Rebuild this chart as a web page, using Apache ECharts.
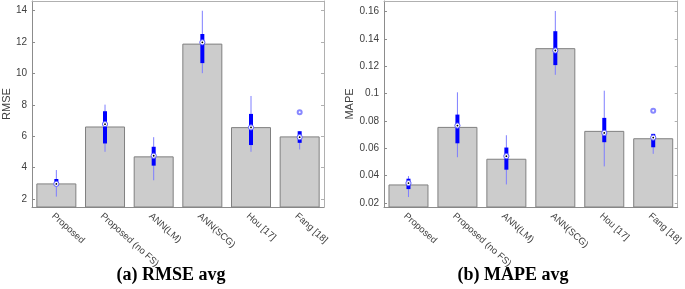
<!DOCTYPE html>
<html>
<head>
<meta charset="utf-8">
<script src="https://cdn.jsdelivr.net/npm/echarts@6/dist/echarts.min.js"></script>
<style>
  html, body { margin: 0; padding: 0; background: #fff; }
  #chart { width: 685px; height: 289px; }
</style>
</head>
<body>
<div id="chart"></div>
<script>
const categories = ["Proposed", "Proposed (no FS)", "ANN(LM)", "ANN(SCG)", "Hou [17]", "Fang [18]"];

// bar heights (averages)
const rmseAvg = [3.0, 6.62, 4.72, 11.89, 6.58, 5.99];
const mapeAvg = [0.0336, 0.0757, 0.0524, 0.1333, 0.0728, 0.0674];

// box stats per category: [low, q1, median, q3, high]
const rmseBox = [
  [2.16, 2.92, 2.97, 3.28, 3.85],
  [5.01, 5.54, 6.77, 7.59, 8.01],
  [3.2, 4.13, 4.76, 5.33, 5.94],
  [10.01, 10.65, 11.97, 12.5, 13.98],
  [5.01, 5.44, 6.56, 7.42, 8.56],
  [5.16, 5.58, 5.94, 6.32, 6.32],
];
const mapeBox = [
  [0.0244, 0.0302, 0.0346, 0.0378, 0.0397],
  [0.0535, 0.0637, 0.0767, 0.0847, 0.101],
  [0.0336, 0.0444, 0.0543, 0.0606, 0.0696],
  [0.1138, 0.1209, 0.1316, 0.1457, 0.1605],
  [0.0468, 0.0645, 0.0713, 0.0823, 0.1022],
  [0.056, 0.0608, 0.0679, 0.0706, 0.0706],
];

// outliers: [category index, value]
const rmseOutliers = [[5, 7.53]];
const mapeOutliers = [[5, 0.0876]];

// tick labels
const rmseTicks = [2, 4, 6, 8, 10, 12, 14];
const mapeTicks = [0.02, 0.04, 0.06, 0.08, 0.1, 0.12, 0.14, 0.16];

const axisColor = "#8c8c8c";
const labelColor = "#404040";
const font = "Liberation Sans";

function boxItem(params, api) {
  const i = api.value(0);
  const low = api.coord([i, api.value(1)]);
  const q1 = api.coord([i, api.value(2)]);
  const med = api.coord([i, api.value(3)]);
  const q3 = api.coord([i, api.value(4)]);
  const high = api.coord([i, api.value(5)]);
  const x = med[0];
  return {
    type: "group",
    children: [
      {
        type: "line",
        shape: { x1: x, y1: low[1], x2: x, y2: high[1] },
        style: { stroke: "#7f7fff", lineWidth: 1 },
      },
      {
        type: "rect",
        shape: { x: x - 2, y: q3[1], width: 4, height: q1[1] - q3[1] },
        style: { fill: "#0000ff" },
      },
      {
        type: "circle",
        shape: { cx: x, cy: med[1], r: 2.6 },
        style: { fill: "#fff", stroke: "#5a5aff", lineWidth: 1 },
      },
      {
        type: "circle",
        shape: { cx: x, cy: med[1], r: 0.9 },
        style: { fill: "#000" },
      },
    ],
  };
}

function buildAxes(gridIndex, ticks, min, max, name, nameGap, fmt) {
  const x = [
    {
      gridIndex,
      type: "category",
      data: categories,
      position: "bottom",
      axisLine: { lineStyle: { color: axisColor } },
      axisTick: { inside: true, alignWithLabel: true, length: 3, lineStyle: { color: axisColor } },
      axisLabel: {
        rotate: -42,
        margin: 4,
        verticalAlign: "top",
        color: labelColor,
        fontFamily: font,
        fontSize: 9.5,
        interval: 0,
      },
    },
    {
      gridIndex,
      type: "category",
      data: categories,
      position: "top",
      axisLine: { lineStyle: { color: "#b0b0b0" } },
      axisTick: { inside: true, alignWithLabel: true, length: 3, lineStyle: { color: "#b0b0b0" } },
      axisLabel: { show: false },
    },
  ];
  const y = [
    {
      gridIndex,
      type: "value",
      min,
      max,
      position: "left",
      name,
      nameLocation: "middle",
      nameGap,
      nameTextStyle: { color: labelColor, fontFamily: font, fontSize: 11 },
      axisLine: { show: true, lineStyle: { color: axisColor } },
      axisTick: { show: true, inside: true, length: 3, customValues: ticks, lineStyle: { color: axisColor } },
      axisLabel: { customValues: ticks, color: labelColor, fontFamily: font, fontSize: 10, margin: 5, formatter: fmt },
      splitLine: { show: false },
    },
    {
      gridIndex,
      type: "value",
      min,
      max,
      position: "right",
      axisLine: { show: true, lineStyle: { color: "#b0b0b0" } },
      axisTick: { show: true, inside: true, length: 3, customValues: ticks, lineStyle: { color: "#b0b0b0" } },
      axisLabel: { show: false },
      splitLine: { show: false },
    },
  ];
  return { x, y };
}

const chart = echarts.init(document.getElementById("chart"), null, { renderer: "canvas" });

const a1 = buildAxes(0, rmseTicks, 1.5, 14.6, "RMSE", 9, (v) => String(v));
const a2 = buildAxes(1, mapeTicks, 0.0171, 0.1678, "MAPE", 21, (v) => String(+v.toFixed(2)));

const option = {
  animation: false,
  grid: [
    { left: 28, top: 1, width: 296, height: 206 },
    { left: 384, top: 1, width: 297, height: 206 },
  ],
  xAxis: [...a1.x, ...a2.x],
  yAxis: [...a1.y, ...a2.y],
  series: [
    {
      type: "bar",
      xAxisIndex: 0,
      yAxisIndex: 0,
      data: rmseAvg,
      barWidth: 40,
      itemStyle: { color: "#cccccc", borderColor: "#808080", borderWidth: 1 },
    },
    {
      type: "custom",
      xAxisIndex: 0,
      yAxisIndex: 0,
      renderItem: boxItem,
      encode: { x: 0, y: [1, 2, 3, 4, 5] },
      data: rmseBox.map((b, i) => [i, ...b]),
      z: 5,
    },
    {
      type: "scatter",
      xAxisIndex: 0,
      yAxisIndex: 0,
      data: rmseOutliers,
      symbol: "emptyCircle",
      symbolSize: 4,
      itemStyle: { color: "#6a6aff", borderWidth: 0.8 },
      z: 6,
    },
    {
      type: "bar",
      xAxisIndex: 2,
      yAxisIndex: 2,
      data: mapeAvg,
      barWidth: 40,
      itemStyle: { color: "#cccccc", borderColor: "#808080", borderWidth: 1 },
    },
    {
      type: "custom",
      xAxisIndex: 2,
      yAxisIndex: 2,
      renderItem: boxItem,
      encode: { x: 0, y: [1, 2, 3, 4, 5] },
      data: mapeBox.map((b, i) => [i, ...b]),
      z: 5,
    },
    {
      type: "scatter",
      xAxisIndex: 2,
      yAxisIndex: 2,
      data: mapeOutliers,
      symbol: "emptyCircle",
      symbolSize: 4,
      itemStyle: { color: "#6a6aff", borderWidth: 0.8 },
      z: 6,
    },
  ],
  graphic: [
    {
      type: "text",
      x: 171,
      y: 266,
      style: { text: "(a) RMSE avg", font: 'bold 18px "Liberation Serif"', fill: "#000", align: "center" },
    },
    {
      type: "text",
      x: 513,
      y: 266,
      style: { text: "(b) MAPE avg", font: 'bold 18px "Liberation Serif"', fill: "#000", align: "center" },
    },
  ],
};

chart.setOption(option);
</script>
</body>
</html>
